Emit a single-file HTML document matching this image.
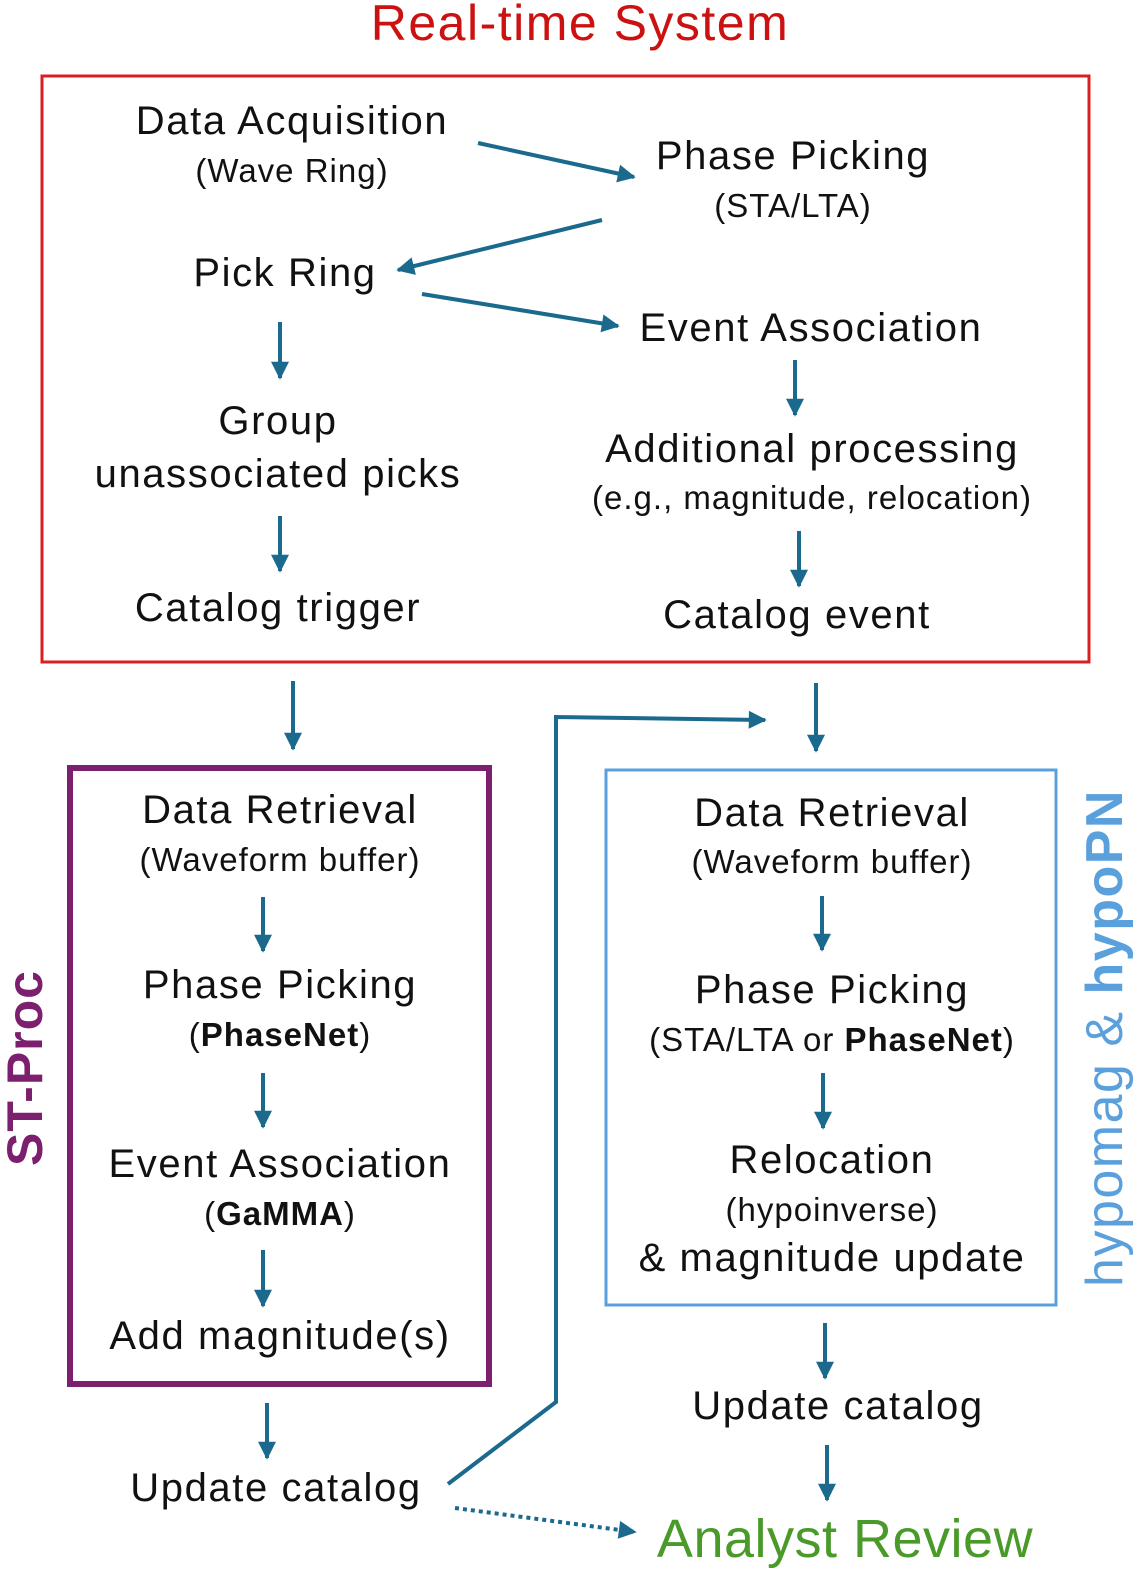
<!DOCTYPE html>
<html><head><meta charset="utf-8"><style>
html,body{margin:0;padding:0;background:#fff;}
svg{display:block;}
text{font-family:"Liberation Sans",sans-serif;fill:#111;}
.m{font-size:40px;text-anchor:middle;letter-spacing:1.6px;}
.s{font-size:33px;text-anchor:middle;letter-spacing:1px;}
</style></head><body>
<svg width="1142" height="1580" viewBox="0 0 1142 1580" xmlns="http://www.w3.org/2000/svg">
<defs>
<marker id="a" viewBox="0 0 10 10" refX="9" refY="5" markerWidth="5" markerHeight="4.5" orient="auto" markerUnits="strokeWidth">
<path d="M0,0 L10,5 L0,10 z" fill="#1b6a8e"/></marker>
</defs>
<text x="580" y="40" style="font-size:50px;text-anchor:middle;fill:#cc1111;letter-spacing:1.5px">Real-time System</text>
<rect x="42" y="76" width="1047" height="586" fill="none" stroke="#d92020" stroke-width="3"/>
<g stroke="#1b6a8e" stroke-width="4" fill="none" marker-end="url(#a)">
<line x1="478" y1="143" x2="634" y2="177"/>
<line x1="602" y1="220" x2="398" y2="270"/>
<line x1="422" y1="294" x2="618" y2="326"/>
<line x1="280" y1="322" x2="280" y2="378"/>
<line x1="795" y1="360" x2="795" y2="415"/>
<line x1="280" y1="516" x2="280" y2="571"/>
<line x1="799" y1="531" x2="799" y2="586"/>
<line x1="293" y1="681" x2="293" y2="749"/>
<line x1="816" y1="683" x2="816" y2="751"/>
<polyline points="448,1484 556,1402 556,717 765,720"/>
<line x1="263" y1="897" x2="263" y2="951"/>
<line x1="263" y1="1073" x2="263" y2="1127"/>
<line x1="263" y1="1250" x2="263" y2="1306"/>
<line x1="267" y1="1403" x2="267" y2="1458"/>
<line x1="455" y1="1508" x2="635" y2="1532" stroke-dasharray="4,4"/>
<line x1="822" y1="896" x2="822" y2="950"/>
<line x1="823" y1="1073" x2="823" y2="1128"/>
<line x1="825" y1="1323" x2="825" y2="1378"/>
<line x1="827" y1="1445" x2="827" y2="1500"/>
</g>
<text class="m" x="292" y="134">Data Acquisition</text>
<text class="s" x="292" y="182">(Wave Ring)</text>
<text class="m" x="793" y="169">Phase Picking</text>
<text class="s" x="793" y="217">(STA/LTA)</text>
<text class="m" x="285" y="286">Pick Ring</text>
<text class="m" x="811" y="341">Event Association</text>
<text class="m" x="278" y="434">Group</text>
<text class="m" x="278" y="487">unassociated picks</text>
<text class="m" x="812" y="462">Additional processing</text>
<text class="s" x="812" y="509">(e.g., magnitude, relocation)</text>
<text class="m" x="278" y="621">Catalog trigger</text>
<text class="m" x="797" y="628">Catalog event</text>

<rect x="70" y="768" width="419" height="616" fill="none" stroke="#7b1f6e" stroke-width="6"/>
<text class="m" x="280" y="823">Data Retrieval</text>
<text class="s" x="280" y="871">(Waveform buffer)</text>
<text class="m" x="280" y="998">Phase Picking</text>
<text class="s" x="280" y="1046">(<tspan font-weight="bold">PhaseNet</tspan>)</text>
<text class="m" x="280" y="1177">Event Association</text>
<text class="s" x="280" y="1225">(<tspan font-weight="bold">GaMMA</tspan>)</text>
<text class="m" x="280" y="1349">Add magnitude(s)</text>
<text class="m" x="276" y="1501">Update catalog</text>
<text transform="translate(42,1068) rotate(-90)" style="font-size:50px;font-weight:bold;text-anchor:middle;fill:#7b1f6e;letter-spacing:1px">ST-Proc</text>

<rect x="606" y="770" width="450" height="535" fill="none" stroke="#5aa0dd" stroke-width="3"/>
<text class="m" x="832" y="826">Data Retrieval</text>
<text class="s" x="832" y="873">(Waveform buffer)</text>
<text class="m" x="832" y="1003">Phase Picking</text>
<text class="s" x="832" y="1051">(STA/LTA or <tspan font-weight="bold">PhaseNet</tspan>)</text>
<text class="m" x="832" y="1173">Relocation</text>
<text class="s" x="832" y="1221">(hypoinverse)</text>
<text class="m" x="832" y="1271">&amp; magnitude update</text>
<text class="m" x="838" y="1419">Update catalog</text>
<text x="845" y="1557" style="font-size:54px;text-anchor:middle;fill:#4a9a2a;letter-spacing:0.5px">Analyst Review</text>
<text transform="translate(1122,1038) rotate(-90)" style="font-size:52px;text-anchor:middle;fill:#5aa0dd;letter-spacing:1.5px">hypomag &amp; <tspan font-weight="bold">hypoPN</tspan></text>
</svg>
</body></html>
